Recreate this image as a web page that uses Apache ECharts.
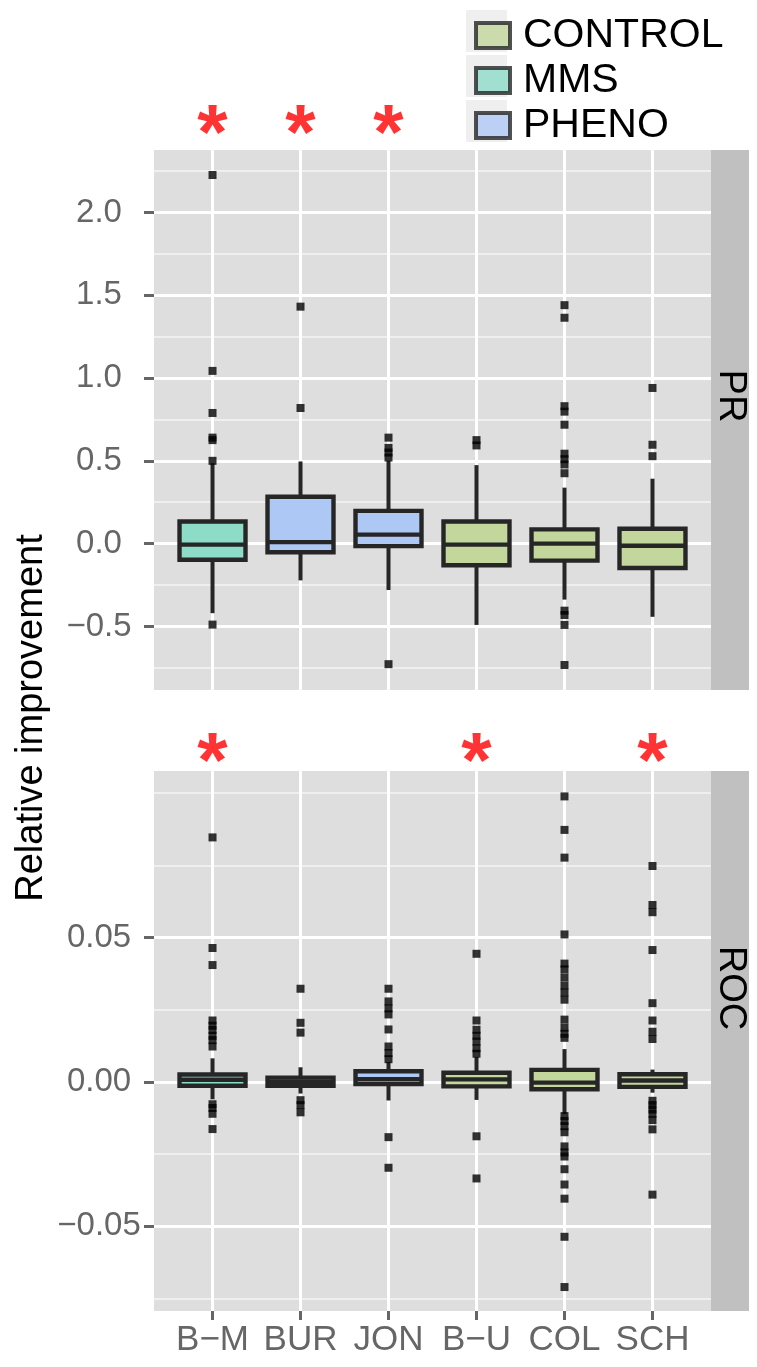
<!DOCTYPE html>
<html>
<head>
<meta charset="utf-8">
<script src="https://cdn.jsdelivr.net/npm/echarts@6/dist/echarts.min.js"></script>
<style>
  html, body { margin: 0; padding: 0; background: #fff; }
  #main { width: 757px; height: 1367px; }
</style>
</head>
<body>
<div id="main"></div>
<script>
var categories = ['B\u2212M', 'BUR', 'JON', 'B\u2212U', 'COL', 'SCH'];
var groups = ['MMS', 'PHENO', 'PHENO', 'CONTROL', 'CONTROL', 'CONTROL'];
var groupNames = ['CONTROL', 'MMS', 'PHENO'];
var groupColors = { CONTROL: '#c3d69b', MMS: '#8ddcc8', PHENO: '#aec8f5' };

// each box: [lower whisker, Q1, median, Q3, upper whisker]
var prBoxes = [
    [-0.42, -0.097, -0.006, 0.134, 0.485],
    [-0.222, -0.052, 0.009, 0.283, 0.496],
    [-0.28, -0.015, 0.054, 0.198, 0.5],
    [-0.491, -0.131, -0.006, 0.134, 0.474],
    [-0.338, -0.103, 0.0, 0.086, 0.338],
    [-0.442, -0.147, -0.013, 0.09, 0.392]
];
var prOutliers = [
    [2.226, 1.043, 0.789, 0.64, 0.625, 0.5, -0.489],
    [1.431, 0.819],
    [0.64, 0.578, 0.55, 0.52, -0.728],
    [0.625, 0.593],
    [1.44, 1.364, 0.83, 0.797, 0.718, 0.543, 0.51, 0.478, 0.425, -0.405, -0.431, -0.491, -0.733],
    [0.94, 0.597, 0.528]
];
var rocBoxes = [
    [-0.006, -0.0013, 0.0008, 0.0026, 0.0082],
    [-0.004, -0.0013, 0.0001, 0.0015, 0.0051],
    [-0.0064, -0.0007, 0.001, 0.0037, 0.0069],
    [-0.0062, -0.0015, 0.0009, 0.0032, 0.0087],
    [-0.0111, -0.0025, -0.0002, 0.0042, 0.0114],
    [-0.0037, -0.0017, 0.0005, 0.0027, 0.0043]
];
var rocOutliers = [
    [0.0847, 0.0464, 0.0405, 0.0213, 0.0195, 0.018, 0.016, 0.0145, 0.0123, -0.0077, -0.009, -0.011, -0.0163],
    [0.0323, 0.0205, 0.0171, -0.0063, -0.008, -0.0105],
    [0.0323, 0.0279, 0.0255, 0.0234, 0.0182, 0.0123, 0.01, 0.0079, -0.0191, -0.0297],
    [0.0444, 0.0213, 0.0181, 0.016, 0.014, 0.0117, 0.0098, -0.0188, -0.0334],
    [0.0989, 0.0873, 0.0777, 0.0511, 0.041, 0.039, 0.0362, 0.0334, 0.031, 0.0285, 0.0216, 0.0188, 0.0167, 0.0153,
     -0.0118, -0.0135, -0.0153, -0.0174, -0.0223, -0.0244, -0.0258, -0.0302, -0.0355, -0.0404, -0.0536, -0.071],
    [0.0748, 0.0613, 0.0588, 0.0457, 0.0273, 0.0213, 0.0174, 0.0149, -0.0065, -0.008, -0.0095, -0.011, -0.0132, -0.0164, -0.039]
];
var prSignificant = ['B\u2212M', 'BUR', 'JON'];
var rocSignificant = ['B\u2212M', 'B\u2212U', 'SCH'];

var prTicks = [-0.5, 0, 0.5, 1, 1.5, 2];
var prMinorTicks = [-0.75, -0.25, 0.25, 0.75, 1.25, 1.75, 2.25];
var rocTicks = [-0.05, 0, 0.05];
var rocMinorTicks = [-0.075, -0.025, 0.025, 0.075, 0.1];
var prRange = [-0.884, 2.377];
var rocRange = [-0.0793, 0.1077];

var FONT = '"Liberation Sans", Arial, Helvetica, sans-serif';
var positions = categories.map(function (c, i) { return i; });

function boxData(boxes) {
    return boxes.map(function (b, i) {
        return [i].concat(b).concat([groupNames.indexOf(groups[i])]);
    });
}
function outlierData(list) {
    var out = [];
    list.forEach(function (vals, i) {
        vals.forEach(function (v) { out.push([i, v]); });
    });
    return out;
}
function starData(list) {
    return list.map(function (c) { return [categories.indexOf(c), 0.5]; });
}
function minusFmt(digits) {
    return function (v) { return v.toFixed(digits).replace('-', '\u2212'); };
}

function renderBox(params, api) {
    var x = api.value(0);
    var lo = api.coord([x, api.value(1)]);
    var q1 = api.coord([x, api.value(2)]);
    var med = api.coord([x, api.value(3)]);
    var q3 = api.coord([x, api.value(4)]);
    var hi = api.coord([x, api.value(5)]);
    var w = api.size([0.75, 0])[0];
    var fill = groupColors[groupNames[api.value(6)]];
    var stroke = '#262626';
    return {
        type: 'group',
        children: [
            { type: 'line', shape: { x1: hi[0], y1: hi[1], x2: q3[0], y2: q3[1] }, style: { stroke: stroke, lineWidth: 4 } },
            { type: 'line', shape: { x1: q1[0], y1: q1[1], x2: lo[0], y2: lo[1] }, style: { stroke: stroke, lineWidth: 4 } },
            { type: 'rect', shape: { x: q3[0] - w / 2, y: q3[1], width: w, height: q1[1] - q3[1] },
              style: { fill: fill, stroke: stroke, lineWidth: 4.4 } },
            { type: 'line', shape: { x1: med[0] - w / 2, y1: med[1], x2: med[0] + w / 2, y2: med[1] },
              style: { stroke: stroke, lineWidth: 4.4 } }
        ]
    };
}

function xAxisFor(gridIndex, withLabels) {
    return {
        type: 'value', gridIndex: gridIndex, min: -0.665, max: 5.665,
        axisLine: { show: false, onZero: false },
        axisTick: { show: withLabels, customValues: positions, length: 9, lineStyle: { color: '#666', width: 3 } },
        axisLabel: {
            show: withLabels, customValues: positions, margin: 12,
            fontSize: 35, color: '#666', fontFamily: FONT,
            formatter: function (v) { return categories[Math.round(v)]; }
        },
        splitLine: { show: true, lineStyle: { color: '#fff', width: 3 } }
    };
}
function majorY(gridIndex, range, ticks, digits) {
    return {
        type: 'value', gridIndex: gridIndex, position: 'left', min: range[0], max: range[1],
        axisLine: { show: false, onZero: false },
        axisTick: { show: true, customValues: ticks, length: 10, lineStyle: { color: '#666', width: 3 } },
        axisLabel: { customValues: ticks, formatter: minusFmt(digits), align: 'center', margin: 55,
            fontSize: 33, color: '#666', fontFamily: FONT },
        splitLine: { show: true, lineStyle: { color: '#fff', width: 3 } }
    };
}
function minorY(gridIndex, range, ticks) {
    return {
        type: 'value', gridIndex: gridIndex, position: 'left', min: range[0], max: range[1],
        axisLine: { show: false, onZero: false },
        axisTick: { show: false, customValues: ticks },
        axisLabel: { show: false },
        splitLine: { show: true, lineStyle: { color: '#f4f4f4', width: 1.5 } }
    };
}
function starSeries(xIdx, yIdx, list) {
    return {
        type: 'scatter', xAxisIndex: xIdx, yAxisIndex: yIdx, data: starData(list),
        symbolSize: 1, itemStyle: { color: 'transparent' }, silent: true,
        label: { show: true, position: 'inside', formatter: '*', color: '#ff0000',
            fontSize: 78, fontWeight: 'bold', fontFamily: FONT, offset: [0, 15] }
    };
}

var series = [
    { type: 'custom', name: 'PR boxes', xAxisIndex: 0, yAxisIndex: 0, renderItem: renderBox,
      data: boxData(prBoxes), z: 2, silent: true },
    { type: 'scatter', xAxisIndex: 0, yAxisIndex: 0, data: outlierData(prOutliers),
      symbol: 'rect', symbolSize: 8, itemStyle: { color: '#000' }, z: 3, silent: true },
    { type: 'custom', name: 'ROC boxes', xAxisIndex: 1, yAxisIndex: 2, renderItem: renderBox,
      data: boxData(rocBoxes), z: 2, silent: true },
    { type: 'scatter', xAxisIndex: 1, yAxisIndex: 2, data: outlierData(rocOutliers),
      symbol: 'rect', symbolSize: 8, itemStyle: { color: '#000' }, z: 3, silent: true },
    starSeries(2, 4, prSignificant),
    starSeries(3, 5, rocSignificant)
];
// empty series so the legend has entries for each group
groupNames.forEach(function (n) {
    series.push({ type: 'scatter', name: n, data: [], itemStyle: { color: groupColors[n] } });
});

var option = {
    animation: false,
    textStyle: { fontFamily: FONT },
    grid: [
        { left: 154, top: 150, width: 557, height: 540, show: true, backgroundColor: '#dedede', borderWidth: 0 },
        { left: 154, top: 771, width: 557, height: 540, show: true, backgroundColor: '#dedede', borderWidth: 0 },
        { left: 154, top: 100, width: 557, height: 44 },
        { left: 154, top: 728, width: 557, height: 44 }
    ],
    xAxis: [
        xAxisFor(0, false),
        xAxisFor(1, true),
        { type: 'value', gridIndex: 2, min: -0.665, max: 5.665, show: false },
        { type: 'value', gridIndex: 3, min: -0.665, max: 5.665, show: false }
    ],
    yAxis: [
        majorY(0, prRange, prTicks, 1),
        minorY(0, prRange, prMinorTicks),
        majorY(1, rocRange, rocTicks, 2),
        minorY(1, rocRange, rocMinorTicks),
        { type: 'value', gridIndex: 2, min: 0, max: 1, show: false },
        { type: 'value', gridIndex: 3, min: 0, max: 1, show: false }
    ],
    legend: {
        orient: 'vertical', left: 469, top: 10,
        itemWidth: 34, itemHeight: 25, itemGap: 4,
        icon: 'rect', selectedMode: false,
        textStyle: { fontSize: 41, color: '#000', fontFamily: FONT, padding: [0, 0, 0, 8] },
        data: groupNames.map(function (n) {
            return { name: n, itemStyle: { color: groupColors[n], borderColor: '#262626', borderWidth: 4 } };
        })
    },
    graphic: [
        { type: 'rect', shape: { x: 466, y: 10, width: 41, height: 42 }, style: { fill: '#efefef' } },
        { type: 'rect', shape: { x: 466, y: 55, width: 41, height: 42 }, style: { fill: '#efefef' } },
        { type: 'rect', shape: { x: 466, y: 100, width: 41, height: 42 }, style: { fill: '#efefef' } },
        { type: 'rect', shape: { x: 711, y: 150, width: 38, height: 540 }, style: { fill: '#c0c0c0' } },
        { type: 'rect', shape: { x: 711, y: 771, width: 38, height: 540 }, style: { fill: '#c0c0c0' } },
        { type: 'text', x: 730, y: 396, rotation: -Math.PI / 2,
          style: { text: 'PR', font: '38px ' + FONT, fill: '#000', align: 'center', verticalAlign: 'middle' } },
        { type: 'text', x: 730, y: 988, rotation: -Math.PI / 2,
          style: { text: 'ROC', font: '38px ' + FONT, fill: '#000', align: 'center', verticalAlign: 'middle' } },
        { type: 'text', x: 32, y: 718, rotation: Math.PI / 2,
          style: { text: 'Relative improvement', font: '38px ' + FONT, fill: '#000', align: 'center', verticalAlign: 'middle' } }
    ],
    series: series
};

var chart = echarts.init(document.getElementById('main'));
chart.setOption(option);
</script>
</body>
</html>
